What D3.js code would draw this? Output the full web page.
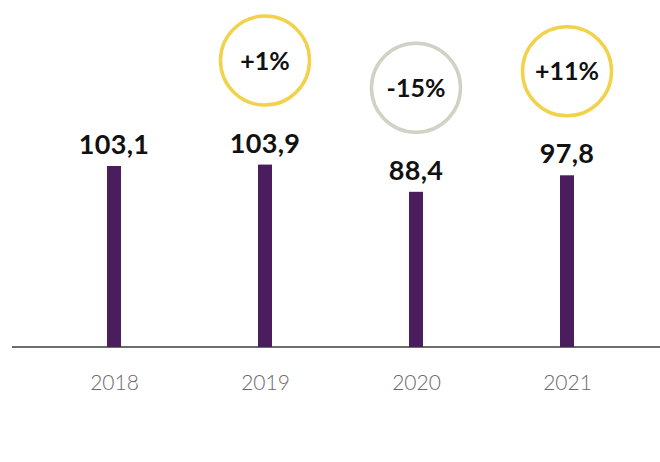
<!DOCTYPE html>
<html>
<head>
<meta charset="utf-8">
<script src="https://cdn.jsdelivr.net/npm/d3@7"></script>
<style>
  html, body { margin: 0; padding: 0; background: #fff; }
  svg { display: block; }
</style>
</head>
<body>
<svg id="chart" width="660" height="462"></svg>
<script>
// Yearly values and year-over-year change
const years = ["2018", "2019", "2020", "2021"];
const values = [103.1, 103.9, 88.4, 97.8];
const changes = [null, "+1%", "-15%", "+11%"];

const W = 660, H = 462;
const baseY = 347;

const svg = d3.select("#chart");

const x = d3.scalePoint().domain(years).range([114, 567]);
const y = d3.scaleLinear().domain([0, 103.1]).range([baseY, 166]);

const fmt = v => d3.format(".1f")(v).replace(".", ",");

const data = years.map((yr, i) => ({ year: yr, value: values[i], change: changes[i] }));

// baseline
svg.append("line")
  .attr("x1", 12).attr("x2", W)
  .attr("y1", baseY).attr("y2", baseY)
  .attr("stroke", "#3d3d3d").attr("stroke-width", 1.6);

// bars
const barW = 14;
svg.append("g").selectAll("rect").data(data).join("rect")
  .attr("x", d => x(d.year) - barW / 2)
  .attr("y", d => y(d.value))
  .attr("width", barW)
  .attr("height", d => baseY - y(d.value))
  .attr("fill", "#4a1e5c");

// value labels
svg.append("g").selectAll("text").data(data).join("text")
  .attr("x", d => x(d.year))
  .attr("y", d => y(d.value) - 12)
  .attr("text-anchor", "middle")
  .attr("font-family", "Lato, sans-serif")
  .attr("font-weight", 700)
  .attr("font-size", 27)
  .attr("letter-spacing", 0.3)
  .attr("fill", "#111")
  .text(d => fmt(d.value));

// change badges
const badges = svg.append("g").selectAll("g").data(data.filter(d => d.change)).join("g")
  .attr("transform", d => `translate(${x(d.year)},${y(d.value) - 104})`);

badges.append("circle")
  .attr("r", 44.5)
  .attr("fill", "#fff")
  .attr("stroke", d => d.change.startsWith("-") ? "#d1d1c5" : "#f1d24a")
  .attr("stroke-width", 3.5);

badges.append("text")
  .attr("text-anchor", "middle")
  .attr("dy", "0.36em")
  .attr("font-family", "Lato, sans-serif")
  .attr("font-weight", 700)
  .attr("font-size", 25)
  .attr("fill", "#111")
  .text(d => d.change);

// year axis
const axis = svg.append("g")
  .attr("transform", `translate(0,${baseY})`)
  .call(d3.axisBottom(x).tickSize(0).tickPadding(28));
axis.select(".domain").remove();
axis.selectAll("text")
  .attr("font-family", "Lato, sans-serif")
  .attr("font-weight", 300)
  .attr("font-size", 21)
  .attr("fill", "#6a6a6a");
</script>
</body>
</html>
